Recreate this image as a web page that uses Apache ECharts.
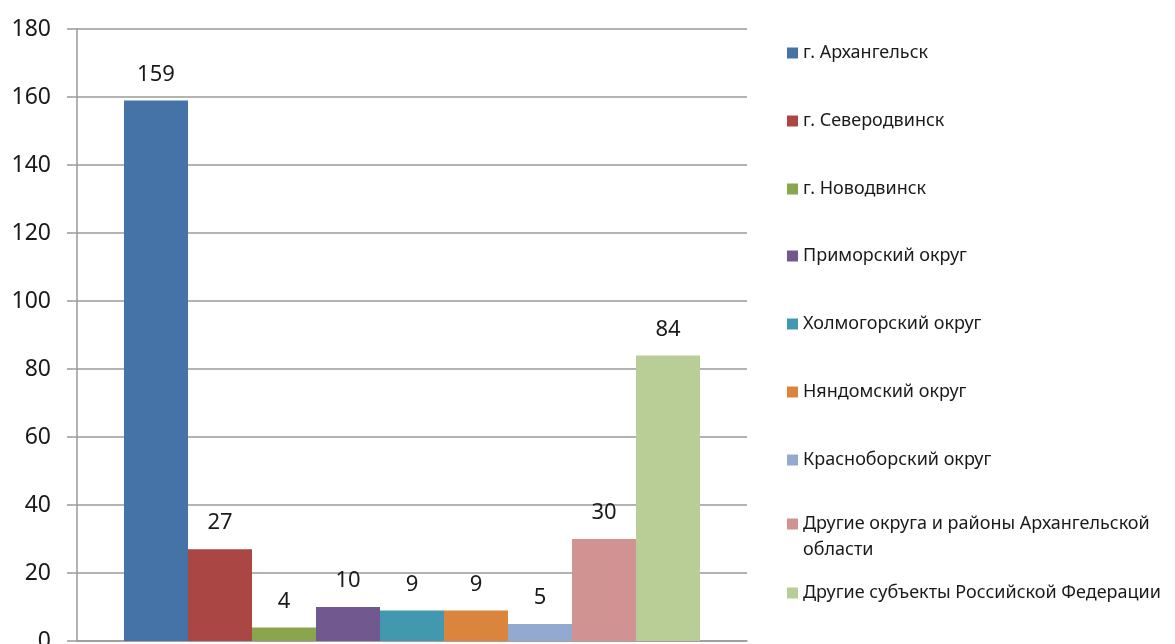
<!DOCTYPE html>
<html><head><meta charset="utf-8">
<script src="https://cdn.jsdelivr.net/npm/echarts@6/dist/echarts.min.js"></script>
<style>html,body{margin:0;padding:0;background:#fff}#c{width:1175px;height:644px}</style>
</head><body><div id="c"></div>
<script>
const seriesNames = [
  "г. Архангельск",
  "г. Северодвинск",
  "г. Новодвинск",
  "Приморский округ",
  "Холмогорский округ",
  "Няндомский округ",
  "Красноборский округ",
  "Другие округа и районы Архангельской области",
  "Другие субъекты Российской Федерации"
];
const seriesValues = [159, 27, 4, 10, 9, 9, 5, 30, 84];
const colors = ["#4572A7","#AA4643","#89A54E","#71588F","#4198AF","#DB843D","#93A9CF","#D19392","#B9CD96"];
const legendTops = [35, 103, 171, 238, 306, 374, 442, 506, 575];

const font = "'Noto Sans', 'Open Sans', sans-serif";
const chart = echarts.init(document.getElementById('c'), null, {renderer:'canvas'});
chart.setOption({
  animation: false,
  color: colors,
  grid: {left: 77, right: 428, top: 29, bottom: 3, containLabel: false, outerBoundsMode: 'none'},
  xAxis: {
    type: 'category', data: [''],
    axisLine: {show: true, lineStyle: {color: '#9a9a9a', width: 1.5}},
    axisTick: {show: false}, axisLabel: {show: false}
  },
  yAxis: {
    type: 'value', min: 0, max: 180, interval: 20,
    axisLine: {show: true, lineStyle: {color: '#9a9a9a', width: 1.5}},
    axisTick: {show: true, length: 10, lineStyle: {color: '#9a9a9a', width: 1.5}},
    splitLine: {show: true, lineStyle: {color: '#9a9a9a', width: 1.5}},
    axisLabel: {fontSize: 23, color: '#1a1a1a', fontFamily: font, margin: 26}
  },
  legend: seriesNames.map((n, i) => {
    const twoLine = i === 7;
    return {
      data: [n], left: 782, top: legendTops[i], orient: 'vertical',
      icon: twoLine ? 'path://M0 0H11V11H0Z M0 37H0.001V37.001H0Z' : 'rect',
      itemWidth: 11, itemHeight: twoLine ? 37 : 11, itemGap: 0,
      selectedMode: false,
      formatter: (name) => twoLine ? "Другие округа и районы Архангельской\nобласти" : name,
      textStyle: {fontSize: 18, color: '#1a1a1a', fontFamily: font, lineHeight: 26}
    };
  }),
  series: seriesNames.map((n, i) => ({
    name: n, type: 'bar', data: [seriesValues[i]],
    barWidth: 64, barGap: '0%',
    itemStyle: {color: colors[i]},
    label: {show: true, position: 'top', distance: 15, fontSize: 22, color: '#1a1a1a', fontFamily: font}
  }))
});
</script></body></html>
